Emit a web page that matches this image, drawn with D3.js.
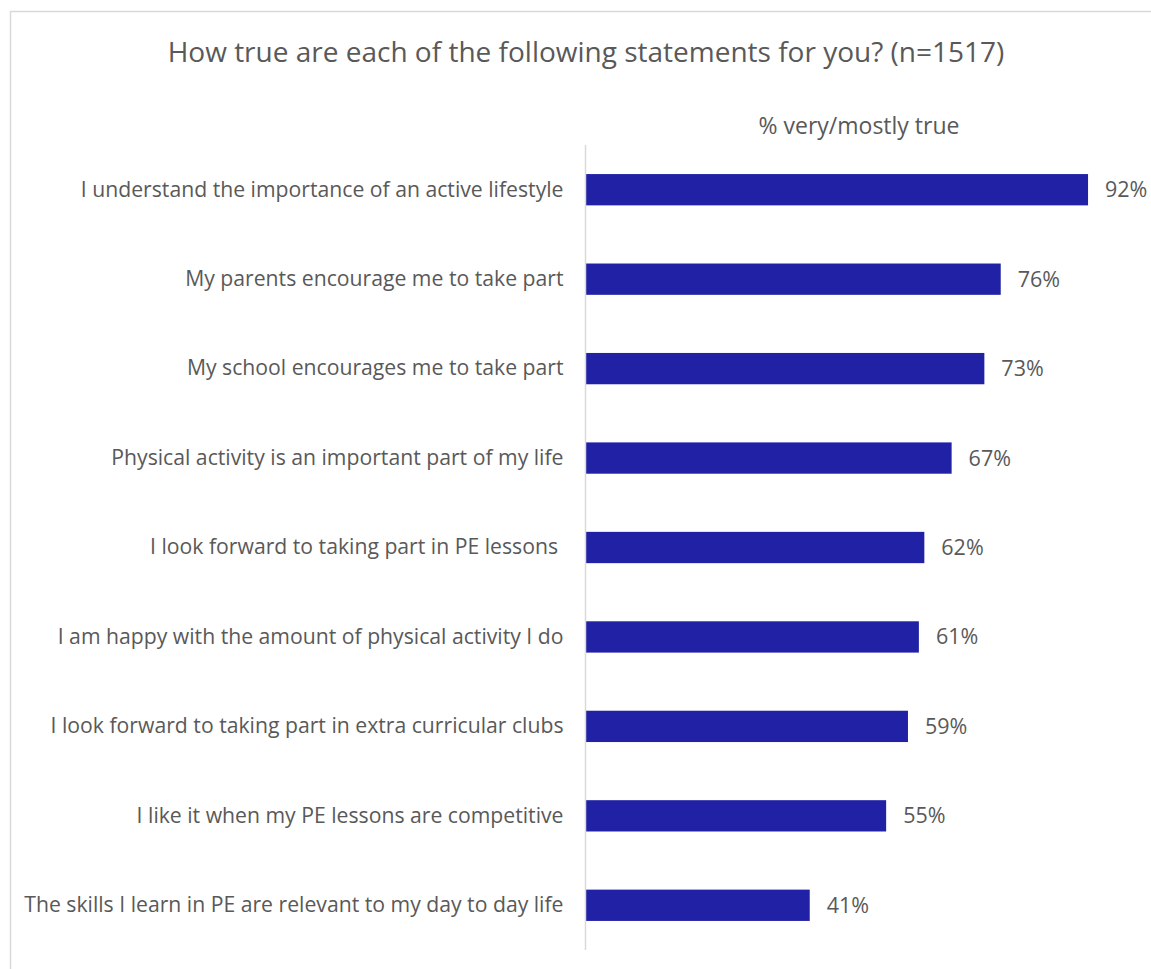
<!DOCTYPE html>
<html>
<head>
<meta charset="utf-8">
<script src="https://cdn.jsdelivr.net/npm/d3@7"></script>
<style>
  html, body { margin: 0; padding: 0; background: #fff; }
  svg { display: block; }
  text { font-family: "Open Sans", Lato, sans-serif; fill: #595959; }
</style>
</head>
<body>
<svg id="chart" width="1151" height="969"></svg>
<script>
const statements = [
  "I understand the importance of an active lifestyle",
  "My parents encourage me to take part",
  "My school encourages me to take part",
  "Physical activity is an important part of my life",
  "I look forward to taking part in PE lessons ",
  "I am happy with the amount of physical activity I do",
  "I look forward to taking part in extra curricular clubs",
  "I like it when my PE lessons are competitive",
  "The skills I learn in PE are relevant to my day to day life"
];
const pctTrue = [92, 76, 73, 67, 62, 61, 59, 55, 41];

const titleText = "How true are each of the following statements for you? (n=1517)";
const seriesName = "% very/mostly true";

const svg = d3.select("#chart");

// chart frame
svg.append("rect")
  .attr("x", 10.5).attr("y", 11.5)
  .attr("width", 1160).attr("height", 980)
  .attr("fill", "none").attr("stroke", "#d9d9d9").attr("stroke-width", 1.5);

const x = d3.scaleLinear().domain([0, 100]).range([586, 1131.7]);
const y = d3.scaleBand().domain(statements).range([145, 950]).paddingInner(0.65).paddingOuter(0.325);

svg.append("text")
  .attr("x", 586).attr("y", 62)
  .attr("text-anchor", "middle")
  .attr("font-size", 28)
  .text(titleText);

svg.append("text")
  .attr("x", 859).attr("y", 134)
  .attr("text-anchor", "middle")
  .attr("font-size", 23)
  .text(seriesName);

// bars
svg.append("g").selectAll("rect")
  .data(pctTrue)
  .join("rect")
  .attr("x", x(0))
  .attr("y", (d, i) => y(statements[i]))
  .attr("width", d => x(d) - x(0))
  .attr("height", y.bandwidth())
  .attr("fill", "#2121a6");

// value labels
svg.append("g").selectAll("text")
  .data(pctTrue)
  .join("text")
  .attr("x", d => x(d) + 17)
  .attr("y", (d, i) => y(statements[i]) + y.bandwidth() / 2)
  .attr("dy", "0.35em")
  .attr("font-size", 21.5)
  .text(d => d + "%");

// category axis
const yAxis = d3.axisLeft(y).tickSize(0).tickPadding(22);
const ag = svg.append("g").attr("transform", "translate(585.5,0)").call(yAxis);
ag.select(".domain").attr("stroke", "#d9d9d9").attr("stroke-width", 1.5)
  .attr("d", "M0,145V950");
ag.selectAll(".tick text")
  .style("font-family", "'Open Sans', Lato, sans-serif")
  .attr("font-size", 21.2)
  .attr("fill", "#595959")
  .style("white-space", "pre");
</script>
</body>
</html>
